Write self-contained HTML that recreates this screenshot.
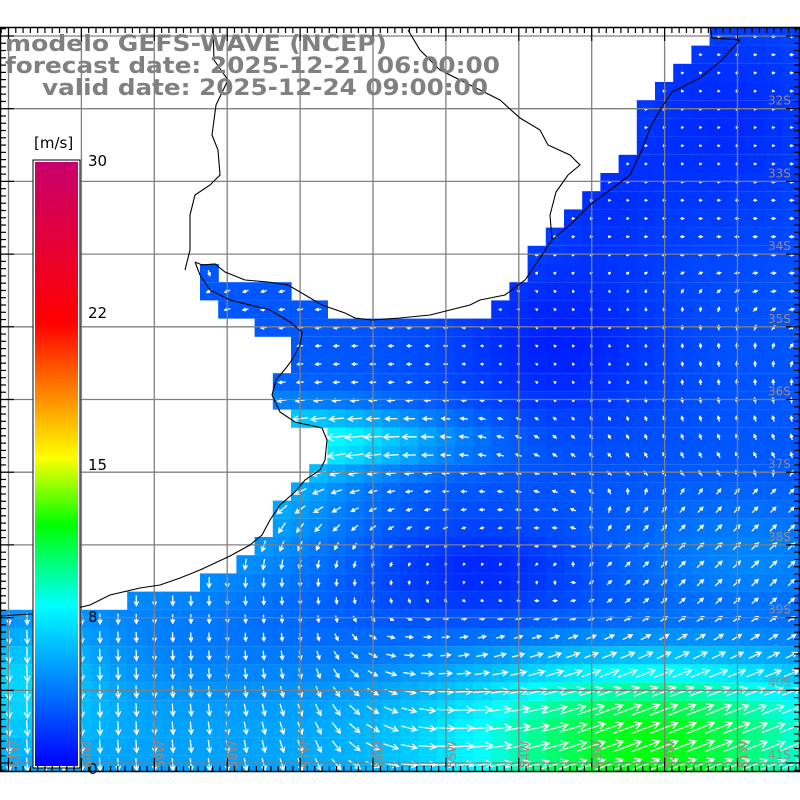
<!DOCTYPE html>
<html><head><meta charset="utf-8">
<style>
html,body{margin:0;padding:0;background:#fff;}
svg{display:block;}
</style></head>
<body>
<svg id="s" width="800" height="800" xmlns="http://www.w3.org/2000/svg" font-family="'DejaVu Sans','Liberation Sans',sans-serif">
<rect width="800" height="800" fill="#fff"/>
<g id="cells"></g>
<g id="arrows" stroke="#fff" stroke-width="1.3" fill="none" stroke-linecap="square"></g>
<g id="grid" stroke="#808080" stroke-width="1.3"></g>
<g fill="none" stroke="#000" stroke-width="1.1">
<polyline points="710,27 712,38 740,40 722,60 700,78 672,92 660,110 650,128 642,150 630,175 610,190 590,205 570,225 552,240 540,258 525,280 505,295 480,300 470,305 430,315 400,318 372,320 355,318 345,313 322,305 300,292 288,285 268,282 245,280 225,272 215,264 202,265 195,262"/>
<polyline points="195,262 200,275 210,290 230,300 270,310 290,322 302,332 300,345 292,360 286,368 276,380 272,395 280,412 295,422 322,428 327,440 325,460 320,470 305,480 295,492 280,505 270,520 262,535 250,545 230,556 200,570 180,578 160,585 140,588 110,595 90,605 60,612 30,614 0,616"/>
<polyline points="213,27 214,60 228,80 216,105 212,135 218,150 220,175 210,185 195,195 190,215 190,250 185,270"/>
<polyline points="408,30 420,50 440,70 470,85 500,100 520,118 540,130 548,145 570,155 580,165 568,175 556,192 550,215 552,240"/>
</g>
<g id="cbar"></g>
<g id="frame"></g>
<g fill="#808080" font-weight="bold" font-size="22">
<text x="5" y="51" textLength="382" lengthAdjust="spacingAndGlyphs">modelo GEFS-WAVE (NCEP)</text>
<text x="5" y="73" textLength="495" lengthAdjust="spacingAndGlyphs">forecast date: 2025-12-21 06:00:00</text>
<text x="42" y="95" textLength="446" lengthAdjust="spacingAndGlyphs">valid date: 2025-12-24 09:00:00</text>
</g>
<g id="labels" fill="#a08878" font-size="11"></g>
</svg>
<script>
const NS="http://www.w3.org/2000/svg";
function el(t,a,p){const e=document.createElementNS(NS,t);for(const k in a)e.setAttribute(k,a[k]);p.appendChild(e);return e;}
const poly=[[800,27],[710,27],[710,45],[691,45],[691,63],[673,63],[673,81],[655,81],[655,100],[637,100],[637,155],[618,155],[618,173],[600,173],[600,191],[582,191],[582,209],[564,209],[564,227],[546,227],[546,245],[527,245],[527,282],[509,282],[509,300],[491,300],[491,318],[327,318],[327,300],[291,300],[291,282],[218,282],[218,264],[200,264],[200,300],[218,300],[218,318],[255,318],[255,336],[291,336],[291,373],[273,373],[273,409],[291,409],[291,427],[327,427],[327,470],[309,470],[309,482],[291,482],[291,500],[273,500],[273,536],[255,536],[255,555],[236,555],[236,573],[200,573],[200,591],[127,591],[127,609],[0,609],[0,772],[800,772]];
function inside(x,y){let c=false;for(let i=0,j=poly.length-1;i<poly.length;j=i++){const[xi,yi]=poly[i],[xj,yj]=poly[j];if(((yi>y)!=(yj>y))&&(x<(xj-xi)*(y-yi)/(yj-yi)+xi))c=!c;}return c;}
function g(x,y,cx,cy,sx,sy){const a=(x-cx)/sx,b=(y-cy)/sy;return Math.exp(-(a*a+b*b));}
function sm(a,b,x){let t=Math.min(1,Math.max(0,(x-a)/(b-a)));return t*t*(3-2*t);}
function val(x,y){
 let b=2.7;
 b-=1.7*g(x,y,560,340,110,90);
 b-=1.5*g(x,y,480,570,100,45);
 b-=1.4*g(x,y,720,120,120,120);
 b-=0.8*g(x,y,600,200,60,60);
 b+=4.3*g(x,y,320,440,140,30);
 b+=2.5*g(x,y,260,480,100,70);
 b+=1.8*g(x,y,150,560,150,80);
 b+=1.5*g(x,y,750,560,120,60);
 b+=2.5*g(x,y,20,670,90,70);
 const A=2.3+6.8*g(x,0,650,0,190,1);
 b+=A*sm(600,735,y);
 return Math.max(0,b);
}
const stops=[[0,[0,0,255]],[8,[0,255,255]],[12,[0,255,0]],[15.3,[255,255,0]],[22,[255,0,0]],[30,[200,0,110]]];
function col(v){for(let i=0;i<stops.length-1;i++){const[a,ca]=stops[i],[b,cb]=stops[i+1];if(v<=b){const t=(v-a)/(b-a);return `rgb(${ca.map((c,k)=>Math.round(c+(cb[k]-c)*t)).join(',')})`;}}return 'rgb(200,0,110)';}
function dir(x,y){
 let u=0,w=0;
 const W=g(x,y,380,430,230,90); u-=6*W; w-=1.5*g(x,y,560,440,120,60);
 const S=g(x,y,150,640,220,170); w+=6*S; u-=2*S*sm(600,480,y);
 const E=sm(590,660,y)*sm(300,480,x); u+=10*E; w-=4*E;
 const E2=sm(470,520,y)*sm(560,700,x)*(1-sm(620,680,y)); u+=5*E2; w-=5*E2;
 const M=g(x,y,400,720,130,70); w+=4*M; u+=3*M;
 const N=g(x,y,640,390,90,60); w-=4*N;
 u+=0.2; return [u,w];
}
const cells=document.getElementById('cells'),arr=document.getElementById('arrows');
const cs=18.2,x0=-0.2,y0=9.2;
for(let j=0;j<42;j++)for(let i=0;i<45;i++){
 const x=x0+i*cs,y=y0+j*cs;if(y+cs<27||y>772||x>800)continue;
 const cx=x+cs/2,cy=y+cs/2;if(!inside(cx,cy))continue;
 const v=val(cx,cy);
 const yy=Math.max(y,27),hh=Math.min(y+cs,772)-yy;
 el('rect',{x:x.toFixed(1),y:yy.toFixed(1),width:(cs+0.6).toFixed(1),height:hh.toFixed(1),fill:col(v)},cells);
 if(cy>765)continue;
 let[u,w]=dir(cx,cy);const m=Math.hypot(u,w)||1;u/=m;w/=m;
 const L=Math.min(29,Math.max(1.5,2.9*v-3));
 const x1=cx-u*L/2,y1=cy-w*L/2,x2=cx+u*L/2,y2=cy+w*L/2;
 const h=Math.min(7,1+L*0.3),a=0.5;
 const hx1=x2-h*(u*Math.cos(a)-w*Math.sin(a)),hy1=y2-h*(w*Math.cos(a)+u*Math.sin(a));
 const hx2=x2-h*(u*Math.cos(a)+w*Math.sin(a)),hy2=y2-h*(w*Math.cos(a)-u*Math.sin(a));
 el('path',{d:`M${x1.toFixed(1)},${y1.toFixed(1)}L${x2.toFixed(1)},${y2.toFixed(1)}M${hx1.toFixed(1)},${hy1.toFixed(1)}L${x2.toFixed(1)},${y2.toFixed(1)}L${hx2.toFixed(1)},${hy2.toFixed(1)}`},arr);
}
const grid=document.getElementById('grid');
for(let k=0;k<11;k++){const x=8.5+k*72.9;el('line',{x1:x,y1:27,x2:x,y2:772},grid);}
for(let k=0;k<11;k++){const y=36+k*72.7;if(y>772)break;el('line',{x1:0,y1:y,x2:800,y2:y},grid);}
const fr=document.getElementById('frame');
el('rect',{x:0.5,y:27.5,width:799,height:744,fill:'none',stroke:'#000','stroke-width':1.5},fr);
for(let k=-1;k<110;k++){const x=8.5+k*7.29;if(x<0||x>800)continue;const big=(k%10===0);const l=big?14:6;
 el('line',{x1:x,y1:27,x2:x,y2:27+l,stroke:'#000','stroke-width':1.2},fr);
 el('line',{x1:x,y1:772,x2:x,y2:772-l,stroke:'#000','stroke-width':1.2},fr);}
for(let k=-1;k<110;k++){const y=36+k*7.27;if(y<27||y>772)continue;const big=(k%10===0);const l=big?14:6;
 el('line',{x1:0,y1:y,x2:l,y2:y,stroke:'#000','stroke-width':1.2},fr);
 el('line',{x1:800,y1:y,x2:800-l,y2:y,stroke:'#000','stroke-width':1.2},fr);}
const cb=document.getElementById('cbar');
const defs=el('defs',{},cb);const lg=el('linearGradient',{id:'gr',x1:0,y1:1,x2:0,y2:0},defs);
stops.forEach(([v,c])=>el('stop',{offset:v/30,'stop-color':`rgb(${c.join(',')})`},lg));
el('rect',{x:32.5,y:159.5,width:48,height:609,fill:'#000'},cb);
el('rect',{x:33.5,y:160.5,width:46,height:607,fill:'#fff'},cb);
el('rect',{x:35,y:162,width:43,height:604,fill:'url(#gr)'},cb);
[[30,160],[22,312],[15,464],[8,616],[0,768]].forEach(([t,y])=>{const e=el('text',{x:88,y:y+6,'font-size':15,fill:'#000'},cb);e.textContent=t;});
const u=el('text',{x:34,y:148,'font-size':15,fill:'#000'},cb);u.textContent='[m/s]';
const lb=document.getElementById('labels');
for(let k=0;k<10;k++){const y=36+(k+1)*72.7-4;const e=el('text',{x:768,y:y,'font-size':12},lb);e.textContent=(32+k)+'S';}
for(let k=0;k<11;k++){const x=8.5+k*72.9+10;const e=el('text',{x:0,y:0,'font-size':12,transform:`translate(${x},768) rotate(-90)`},lb);e.textContent=(61-k)+'W';}
</script>
</body></html>
